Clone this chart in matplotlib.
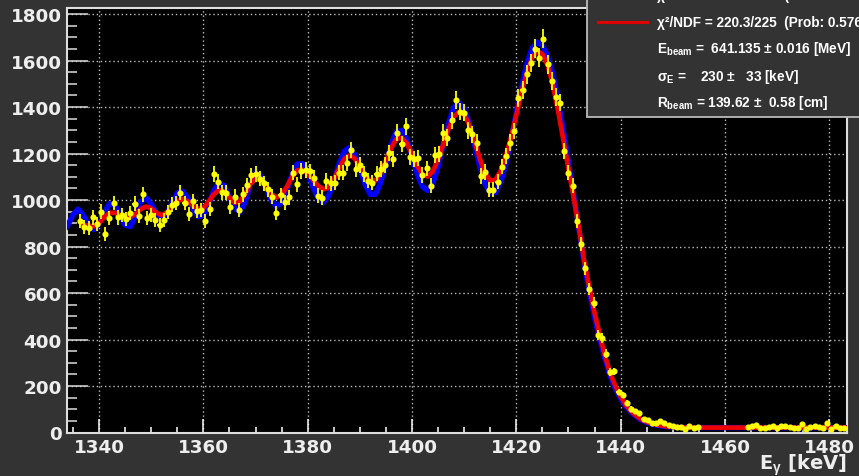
import numpy as np
import matplotlib
matplotlib.use('Agg')
import matplotlib.pyplot as plt
from matplotlib.patches import Rectangle
from matplotlib.lines import Line2D
from matplotlib.ticker import MultipleLocator

plt.rcParams['font.family'] = ['DejaVu Sans']
plt.rcParams['font.weight'] = 'bold'
plt.rcParams['mathtext.fontset'] = 'custom'
plt.rcParams['mathtext.rm'] = 'Liberation Sans:bold'
plt.rcParams['mathtext.it'] = 'Liberation Sans:bold'
plt.rcParams['mathtext.bf'] = 'Liberation Sans:bold'

# ---------------- data ----------------
bin_start = 1336.4      # keV, centre of first bin
bin_width = 0.8         # keV
nan = np.nan
counts = [
    911, 885, 880, 925, 897, 950, 854, 923, 988, 925,
    936, 917, 944, 985, 930, 1025, 923, 935, 915, 893,
    915, 947, 980, 988, 1032, 988, 941, 994, 954, 958,
    911, 961, 1113, 1079, 1034, 1031, 970, 1015, 958, 1025,
    1064, 1106, 1111, 1092, 1072, 1047, 1015, 945, 1021, 990,
    1011, 1118, 1068, 1125, 1129, 1123, 1095, 1018, 1010, 1082,
    1072, 1075, 1118, 1118, 1161, 1214, 1133, 1152, 1111, 1083,
    1075, 1114, 1133, 1150, 1202, 1176, 1290, 1240, 1318, 1183,
    1175, 1179, 1108, 1136, 1061, 1195, 1197, 1290, 1268, 1344,
    1430, 1380, 1376, 1300, 1283, 1247, 1104, 1121, 1044, 1044,
    1079, 1144, 1190, 1247, 1297, 1440, 1472, 1540, 1590, 1650,
    1612, 1693, 1583, 1512, 1444, 1419, 1211, 1118, 1061, 911,
    811, 706, 618, 558, 420, 406, 339, 260, 263, 174,
    163, 129, 103, 92, 84, 57, 53, 43, 43, 49,
    39, 34, 29, 24, 24, 17, 27, 21, 24,
    nan, nan, nan, nan, nan, nan, nan, nan, nan, nan, nan,
    24, 29, 31, 20, 20, 24, 27, 20, 29, 27,
    24, 20, 20, 37, 17, 24, 29, 24, 20, 43,
    17, 27, 21, 21,
]

# fit curve (red)
red_keV = list(range(1337, 1451)) + [1452, 1455, 1460, 1470, 1484]
red_val = [
    894, 889, 887, 900, 926, 945, 945, 936, 927, 927,
    941, 961, 972, 964, 945, 935, 945, 971, 995, 1004,
    994, 976, 962, 966, 992, 1025, 1043, 1036, 1010, 989,
    993, 1026, 1068, 1091, 1084, 1057, 1026, 1011, 1023, 1057,
    1099, 1128, 1131, 1115, 1088, 1061, 1046, 1053, 1088, 1135,
    1176, 1192, 1179, 1146, 1108, 1083, 1084, 1116, 1169, 1223,
    1262, 1268, 1244, 1198, 1147, 1110, 1101, 1123, 1174, 1240,
    1306, 1357, 1379, 1368, 1322, 1253, 1178, 1116, 1083, 1087,
    1125, 1190, 1270, 1365, 1465, 1545, 1610, 1640, 1628, 1580,
    1495, 1385, 1260, 1135, 1010, 880, 740, 625, 515, 420,
    330, 255, 200, 155, 118, 92, 72, 56, 46, 38,
    33, 29, 26, 24,
    22, 21, 21, 21, 21,
]

# second curve (blue)
blue_keV = list(range(1333, 1451)) + [1452, 1455, 1460, 1470, 1484]
blue_val = [
    862,
    891, 937, 961, 934, 892, 873, 897, 947, 984, 979,
    936, 892, 886, 933, 993, 1010, 983, 943, 922, 941,
    987, 1030, 1038, 1008, 961, 928, 934, 981, 1041, 1074,
    1061, 1014, 965, 947, 990, 1068, 1116, 1104, 1055, 1001,
    973, 989, 1044, 1110, 1155, 1156, 1116, 1057, 1007, 990,
    1018, 1080, 1154, 1209, 1226, 1196, 1134, 1068, 1024, 1025,
    1075, 1156, 1240, 1294, 1300, 1260, 1190, 1112, 1057, 1041,
    1072, 1144, 1239, 1330, 1397, 1419, 1394, 1328, 1239, 1144,
    1069, 1029, 1032, 1077, 1156, 1259, 1376, 1487, 1584, 1651,
    1679, 1665, 1620, 1540, 1430, 1300, 1160, 1020, 875, 730,
    605, 495, 400, 315, 243, 188, 145, 112, 87, 68,
    53, 43, 36, 31, 27, 25, 23,
    22, 21, 21, 21, 21,
]

legend_lines = [
    'χ²/NDF = 261.4/225  (Prob: 0.049)',
    'χ²/NDF = 220.3/225  (Prob: 0.576)',
    r'E$_{\mathrm{beam}}$ =  641.135 ± 0.016 [MeV]',
    r'σ$_{\mathrm{E}}$ =    230 ±   33 [keV]',
    r'R$_{\mathrm{beam}}$ = 139.62 ±  0.58 [cm]',
]
x_ticks = [1340, 1360, 1380, 1400, 1420, 1440, 1460, 1480]
y_ticks = [0, 200, 400, 600, 800, 1000, 1200, 1400, 1600, 1800]

# ---------------- figure ----------------
BG = '#333333'
FG = '#eeeeee'
W, H = 859, 477
fig = plt.figure(figsize=(W / 100, H / 100), dpi=100, facecolor=BG)
ax = fig.add_axes([66.7 / W, 43.5 / H, (847 - 66.7) / W, (433.5 - 9) / H])
ax.set_facecolor('black')

counts = np.array(counts, dtype=float)
centers = bin_start + bin_width * np.arange(len(counts))
ok = ~np.isnan(counts)

ax.plot(blue_keV, blue_val, color='#0000ff', lw=3.9, zorder=3,
        solid_joinstyle='round')
ax.plot(red_keV, red_val, color='#ee0000', lw=3.4, zorder=4,
        solid_joinstyle='round')
ax.errorbar(centers[ok], counts[ok], xerr=bin_width / 2,
            yerr=np.sqrt(counts[ok]), fmt='o', color='#ffff00',
            mec='#ffff00', mfc='#ffff00', ms=3.4, elinewidth=1.3,
            capsize=0, zorder=5)

ax.set_xlim(1333.8, 1483.4)
ax.set_ylim(0, 1826)
ax.set_xticks(x_ticks)
ax.set_yticks(y_ticks)
ax.xaxis.set_minor_locator(MultipleLocator(5))
ax.yaxis.set_minor_locator(MultipleLocator(50))

ax.tick_params(axis='x', which='major', direction='in', length=10, width=1.1,
               color='white', pad=4, labelsize=13.2, labelcolor=FG,
               top=False)
ax.tick_params(axis='x', which='minor', direction='in', length=4.3,
               width=1.1, color='white', top=False)
ax.tick_params(axis='y', which='major', direction='in', length=15, width=1.1,
               color='#dddddd', pad=3.5, labelsize=13.2, labelcolor=FG,
               right=False)
ax.tick_params(axis='y', which='minor', direction='in', length=7.2,
               width=1.1, color='#dddddd', right=False)
for lab in ax.get_xticklabels() + ax.get_yticklabels():
    lab.set_fontweight('bold')

ax.grid(which='major', color='#bbbbbb', linestyle=(0, (1, 2)), linewidth=1.0)
ax.set_axisbelow(True)
for s in ax.spines.values():
    s.set_color('#dddddd')
    s.set_linewidth(1.5)

fig.text(847 / W, 1 - 470.0 / H, r'E$_{\gamma}$ [keV]', ha='right',
         va='baseline', fontsize=14.0, fontweight='bold', color=FG)

# statistics box (extends past the figure edge)
box = Rectangle((587 / W, 1 - 118 / H), 1.0, 1.0, transform=fig.transFigure,
                facecolor=BG, edgecolor='#bbbbbb', lw=1.3, zorder=10)
fig.add_artist(box)
baselines = [0.0, 26.7, 52.7, 81.0, 107.3]
for txt, b in zip(legend_lines, baselines):
    fig.text(657 / W, 1 - b / H, txt, ha='left', va='baseline', fontsize=9.8,
             fontweight='bold', color='white', zorder=11,
             family=['Liberation Sans', 'DejaVu Sans'])
fig.add_artist(Line2D([598 / W, 647 / W], [1 - 23.3 / H, 1 - 23.3 / H],
                      transform=fig.transFigure, color='#dd0000', lw=2.3,
                      zorder=11))

fig.savefig('out.png', dpi=100, facecolor=BG)
